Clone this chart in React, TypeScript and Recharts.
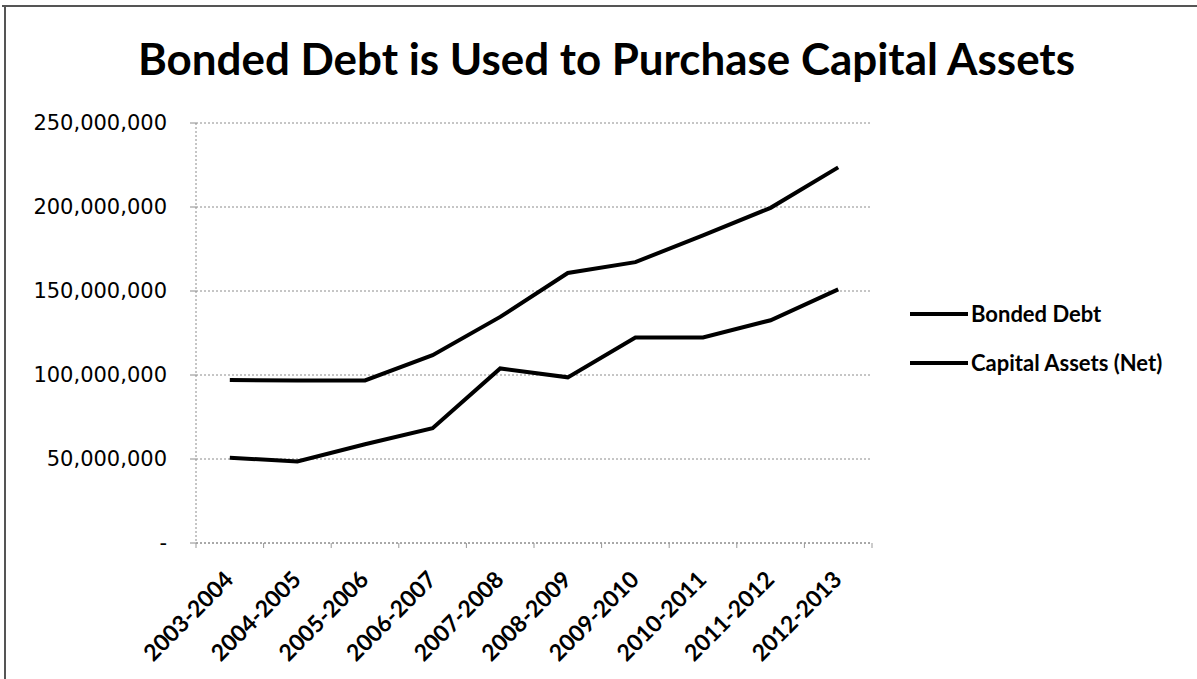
import { LineChart, Line, XAxis, YAxis, CartesianGrid, Legend } from "recharts";

const FISCAL_YEARS = ["2003-2004", "2004-2005", "2005-2006", "2006-2007", "2007-2008", "2008-2009", "2009-2010", "2010-2011", "2011-2012", "2012-2013"];
const BONDED_DEBT = [50800000, 48500000, 58800000, 68300000, 103900000, 98600000, 122300000, 122300000, 132600000, 151000000];
const CAPITAL_ASSETS = [97000000, 96700000, 96800000, 111800000, 134600000, 160700000, 167200000, 183100000, 199500000, 223600000];
const Y_TICKS = [0, 50000000, 100000000, 150000000, 200000000, 250000000];

const data = FISCAL_YEARS.map((year, i) => ({ year, bonded: BONDED_DEBT[i], assets: CAPITAL_ASSETS[i] }));

const fmtY = (v: number) => (v === 0 ? "-" : v.toLocaleString("en-US"));

const XTick = (props: any) => {
  const { x, y, payload, index } = props;
  const half = payload?.offset || 33.8;
  const last = index === FISCAL_YEARS.length - 1;
  const tx = x + 5;
  const ty = y + 30;
  return (
    <g>
      <line x1={x - half} x2={x - half} y1={y - 8} y2={y - 3} stroke="#999" strokeWidth={1} />
      {last && <line x1={x + half} x2={x + half} y1={y - 8} y2={y - 3} stroke="#999" strokeWidth={1} />}
      <text x={tx} y={ty} transform={`rotate(-45, ${tx}, ${ty})`} textAnchor="end" fill="#000" fontFamily="Lato, 'Open Sans', sans-serif" fontWeight={700} fontSize={23}>
        {payload.value}
      </text>
    </g>
  );
};

const renderLegend = (props: any) => {
  const { payload } = props;
  return (
    <div>
      {(payload || []).map((p: any) => (
        <div key={p.value} style={{ display: "flex", alignItems: "center", height: 49 }}>
          <svg width={58} height={8} style={{ display: "block" }}>
            <line x1={0} x2={58} y1={4} y2={4} stroke="#000" strokeWidth={4} />
          </svg>
          <span style={{ marginLeft: 3, fontFamily: "Lato, 'Open Sans', sans-serif", fontWeight: 700, fontSize: 22, color: "#000", whiteSpace: "nowrap" }}>{p.value}</span>
        </div>
      ))}
    </div>
  );
};

export default function App() {
  return (
    <div style={{ position: "relative", width: 1197, height: 679, background: "#fff" }}>
      <style>{`body{margin:0;background:#fff}`}</style>
      <LineChart width={1197} height={679} data={data} margin={{ top: 123, right: 325, bottom: 0, left: 0 }}>
        <CartesianGrid vertical={false} stroke="#8c8c8c" strokeDasharray="2 2" />
        <XAxis dataKey="year" scale="band" height={136} axisLine={{ stroke: "#8c8c8c", strokeDasharray: "2 2" }} tickLine={false} interval={0} tick={<XTick />} />
        <YAxis
          width={196}
          domain={[0, 250000000]}
          ticks={Y_TICKS}
          tickFormatter={fmtY}
          axisLine={{ stroke: "#8c8c8c", strokeDasharray: "2 2" }}
          tickLine={{ stroke: "#8c8c8c" }}
          tickSize={6}
          tickMargin={23}
          tick={{ fill: "#000", fontFamily: "'DejaVu Sans', Verdana, sans-serif", fontSize: 21 }}
        />
        <Legend layout="vertical" align="center" verticalAlign="middle" content={renderLegend} wrapperStyle={{ left: 910, top: 289, width: 285, height: 100 }} />
        <Line name="Bonded Debt" dataKey="bonded" stroke="#000" strokeWidth={4} dot={false} activeDot={false} isAnimationActive={false} />
        <Line name="Capital Assets (Net)" dataKey="assets" stroke="#000" strokeWidth={4} dot={false} activeDot={false} isAnimationActive={false} />
      </LineChart>
      <svg width={1197} height={679} style={{ position: "absolute", left: 0, top: 0, pointerEvents: "none" }}>
        <line x1={2} x2={1197} y1={6} y2={6} stroke="#555" strokeWidth={2} />
        <line x1={5} x2={5} y1={6} y2={679} stroke="#555" strokeWidth={2} />
        <text x={138} y={75} textLength={937} lengthAdjust="spacingAndGlyphs" fontFamily="Lato, 'Open Sans', sans-serif" fontWeight={700} fontSize={44} fill="#000">
          Bonded Debt is Used to Purchase Capital Assets
        </text>
      </svg>
    </div>
  );
}
